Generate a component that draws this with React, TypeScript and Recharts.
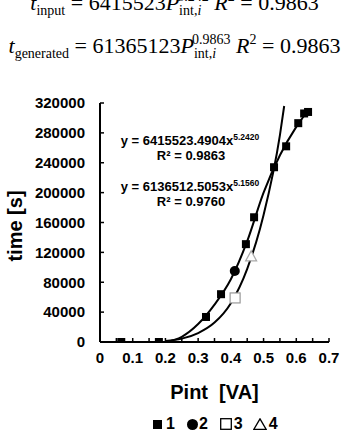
import React from "react";
import {
  ComposedChart,
  Line,
  Scatter,
  XAxis,
  YAxis,
} from "recharts";

// values
const xTicks = [0, 0.05, 0.1, 0.15, 0.2, 0.25, 0.3, 0.35, 0.4, 0.45, 0.5, 0.55, 0.6, 0.65, 0.7];
const xLabels = ["0", "", "0.1", "", "0.2", "", "0.3", "", "0.4", "", "0.5", "", "0.6", "", "0.7"];
const yTicks = [0, 40000, 80000, 120000, 160000, 200000, 240000, 280000, 320000];

const s1X = [0.065, 0.18, 0.324, 0.37, 0.446, 0.471, 0.532, 0.569, 0.606, 0.624, 0.636];
const s1Y = [0, 0, 33500, 64000, 131000, 167000, 234000, 262000, 293000, 306000, 308000];
const s2X = [0.412];
const s2Y = [95000];
const s3X = [0.413];
const s3Y = [59000];
const s4X = [0.462];
const s4Y = [114000];

// the two drawn curves
const curveAX = [0.2, 0.25, 0.3, 0.35, 0.4, 0.45, 0.5, 0.55, 0.6, 0.636];
const curveAY = [0, 7000, 24000, 50000, 84000, 135000, 200000, 250000, 288000, 310000];
const curveBX = [0.2, 0.25, 0.3, 0.35, 0.4, 0.45, 0.5, 0.55, 0.563];
const curveBY = [1400, 4500, 12000, 26000, 52000, 98000, 170000, 277000, 316000];

const zip = (xs: number[], ys: number[]) => xs.map((x, i) => ({ x, y: ys[i] }));

const FONT = "'Liberation Sans', Arial, sans-serif";
const SERIF = "'Liberation Serif', 'Times New Roman', serif";

const FilledSquare = ({ cx, cy }: any) => (
  <rect x={cx - 4} y={cy - 4} width={8} height={8} fill="#000" />
);
const FilledCircle = ({ cx, cy }: any) => <circle cx={cx} cy={cy} r={5} fill="#000" />;
const OpenSquare = ({ cx, cy }: any) => (
  <rect x={cx - 5} y={cy - 5} width={10} height={10} fill="#fff" stroke="#999" strokeWidth={1.2} />
);
const OpenTriangle = ({ cx, cy }: any) => (
  <polygon
    points={`${cx},${cy - 6} ${cx - 5.5},${cy + 4} ${cx + 5.5},${cy + 4}`}
    fill="#fff"
    stroke="#aaa"
    strokeWidth={1.2}
  />
);

const sub = { fontSize: 14, verticalAlign: "-5px", lineHeight: 0 } as React.CSSProperties;
const sup = { fontSize: 14, verticalAlign: "9px", lineHeight: 0 } as React.CSSProperties;

function Formula({ top, name, coef, exp }: { top: number; name: string; coef: string; exp: string }) {
  return (
    <div
      style={{
        position: "absolute",
        top,
        left: 0,
        width: 349,
        textAlign: "center",
        fontFamily: SERIF,
        fontSize: 22,
        lineHeight: "22px",
        whiteSpace: "nowrap",
      }}
    >
      <i>t</i>
      <span style={sub}>{name}</span> = {coef}
      <i>P</i>
      <span style={{ position: "relative" }}>
        <span style={sub}>
          int,<i>i</i>
        </span>
        <span style={{ ...sup, marginLeft: -24 }}>{exp}</span>
      </span>
      <i> R</i>
      <span style={sup}>2</span> = 0.9863
    </div>
  );
}

function Legend() {
  const row = {
    position: "absolute",
    top: 416,
    left: 153,
    display: "flex",
    alignItems: "center",
    fontFamily: FONT,
    fontWeight: "bold",
    fontSize: 16,
    lineHeight: "16px",
    whiteSpace: "nowrap",
  } as React.CSSProperties;
  return (
    <div style={row}>
      <svg width={9} height={9}><rect x={0} y={0} width={9} height={9} fill="#000" /></svg>
      <span style={{ marginLeft: 4, marginRight: 12 }}>1</span>
      <svg width={11} height={11}><circle cx={5.5} cy={5.5} r={5.5} fill="#000" /></svg>
      <span style={{ marginLeft: 1, marginRight: 12 }}>2</span>
      <svg width={12} height={12}><rect x={0.7} y={0.7} width={10.6} height={10.6} fill="none" stroke="#000" strokeWidth={1.3} /></svg>
      <span style={{ marginLeft: 2, marginRight: 10 }}>3</span>
      <svg width={14} height={12}><polygon points="7,0.8 0.8,11.3 13.2,11.3" fill="none" stroke="#000" strokeWidth={1.3} /></svg>
      <span style={{ marginLeft: 2 }}>4</span>
    </div>
  );
}

export default function App() {
  return (
    <div
      style={{
        position: "absolute",
        left: 0,
        top: 0,
        width: 349,
        height: 433,
        overflow: "hidden",
        background: "#fff",
      }}
    >
      <Formula top={-8} name="input" coef="6415523" exp="5.242" />
      <Formula top={35} name="generated" coef="61365123" exp="0.9863" />

      <div style={{ position: "absolute", left: 0, top: 0 }}>
        <ComposedChart
          width={349}
          height={433}
          margin={{ top: 103, right: 20, bottom: 61, left: 0 }}
        >
          <XAxis
            type="number"
            dataKey="x"
            domain={[0, 0.7]}
            ticks={xTicks}
            tickFormatter={(v: number) => xLabels[xTicks.indexOf(v)] ?? ""}
            interval={0}
            height={30}
            tickSize={-4}
            tickMargin={14}
            axisLine={{ stroke: "#000", strokeWidth: 2 }}
            tickLine={{ stroke: "#000", strokeWidth: 1.5 }}
            tick={{ fill: "#000", fontFamily: FONT, fontWeight: "bold", fontSize: 15 }}
            allowDataOverflow
            label={{
              value: "Pint\u00a0\u00a0[VA]",
              position: "bottom",
              offset: 13,
              fill: "#000",
              fontFamily: FONT,
              fontWeight: "bold",
              fontSize: 20,
            }}
          />
          <YAxis
            type="number"
            dataKey="y"
            domain={[0, 320000]}
            ticks={yTicks}
            interval={0}
            width={100}
            tickSize={-4}
            tickMargin={19}
            axisLine={{ stroke: "#000", strokeWidth: 2 }}
            tickLine={{ stroke: "#000", strokeWidth: 1.5 }}
            tick={{ fill: "#000", fontFamily: FONT, fontWeight: "bold", fontSize: 15 }}
            allowDataOverflow
            label={() => (
              <text
                x={22}
                y={226}
                transform="rotate(-90 22 226)"
                textAnchor="middle"
                fill="#000"
                fontFamily={FONT}
                fontWeight="bold"
                fontSize={20}
              >
                time [s]
              </text>
            )}
          />
          <Line
            data={zip(curveBX, curveBY)}
            dataKey="y"
            type="monotone"
            stroke="#000"
            strokeWidth={2}
            dot={false}
            activeDot={false}
            isAnimationActive={false}
          />
          <Line
            data={zip(curveAX, curveAY)}
            dataKey="y"
            type="monotone"
            stroke="#000"
            strokeWidth={2}
            dot={false}
            activeDot={false}
            isAnimationActive={false}
          />
          <Scatter data={zip(s3X, s3Y)} shape={<OpenSquare />} isAnimationActive={false} />
          <Scatter data={zip(s4X, s4Y)} shape={<OpenTriangle />} isAnimationActive={false} />
          <Scatter data={zip(s1X, s1Y)} shape={<FilledSquare />} isAnimationActive={false} />
          <Scatter data={zip(s2X, s2Y)} shape={<FilledCircle />} isAnimationActive={false} />
        </ComposedChart>
      </div>

      <svg
        width={349}
        height={433}
        style={{ position: "absolute", left: 0, top: 0, pointerEvents: "none" }}
      >
        <g fontFamily={FONT} fontWeight="bold" fill="#000" textAnchor="middle">
          <text x={190} y={145} fontSize={13}>
            y = 6415523.4904x
            <tspan dy={-5} fontSize={8.5}>5.2420</tspan>
          </text>
          <text x={191} y={160} fontSize={13}>R² = 0.9863</text>
          <text x={190} y={191} fontSize={13}>
            y = 6136512.5053x
            <tspan dy={-5} fontSize={8.5}>5.1560</tspan>
          </text>
          <text x={191} y={206} fontSize={13}>R² = 0.9760</text>
        </g>
      </svg>

      <Legend />
    </div>
  );
}
